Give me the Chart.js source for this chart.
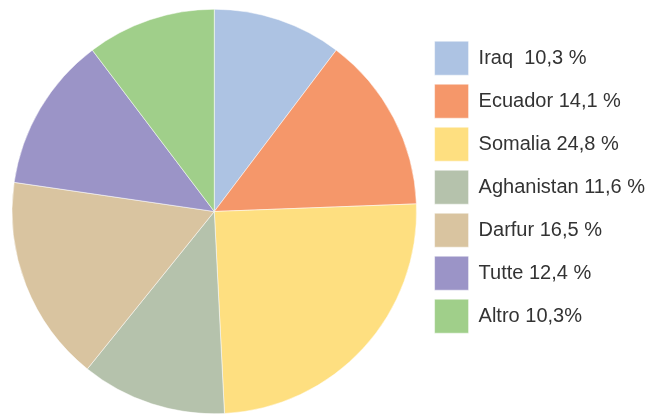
<!DOCTYPE html>
<html>
<head>
<meta charset="utf-8">
<script src="https://cdn.jsdelivr.net/npm/chart.js@4"></script>
<style>
  html, body { margin: 0; padding: 0; background: #fff; }
  #wrap { width: 655px; height: 414px; }
</style>
</head>
<body>
<div id="wrap"><canvas id="pie"></canvas></div>
<script>
const categories = ['Iraq  10,3 %', 'Ecuador 14,1 %', 'Somalia 24,8 %', 'Aghanistan 11,6 %', 'Darfur 16,5 %', 'Tutte 12,4 %', 'Altro 10,3%'];
const shares = [10.3, 14.1, 24.8, 11.6, 16.5, 12.4, 10.3];
const colors = ['#adc3e3', '#f5976a', '#fedf80', '#b5c2ac', '#d9c4a0', '#9b94c7', '#a0cf8a'];

const data = {
  labels: categories,
  datasets: [{
    data: shares,
    backgroundColor: colors,
    borderColor: '#ffffff',
    borderWidth: 0.5
  }]
};

const config = {
  type: 'pie',
  data: data,
  options: {
    responsive: true,
    maintainAspectRatio: false,
    animation: false,
    layout: {
      padding: { top: 9, bottom: 0, left: 3, right: 0 }
    },
    plugins: {
      tooltip: { enabled: false },
      legend: {
        position: 'right',
        align: 'start',
        // empty title only used as a spacer above the items
        title: {
          display: true,
          text: '',
          font: { size: 1 },
          padding: { top: 0, bottom: 22 }
        },
        labels: {
          boxWidth: 34,
          boxHeight: 34,
          padding: 9,
          color: '#333333',
          font: { family: 'Liberation Sans', size: 20 }
        }
      }
    }
  }
};

new Chart(document.getElementById('pie'), config);
</script>
</body>
</html>
